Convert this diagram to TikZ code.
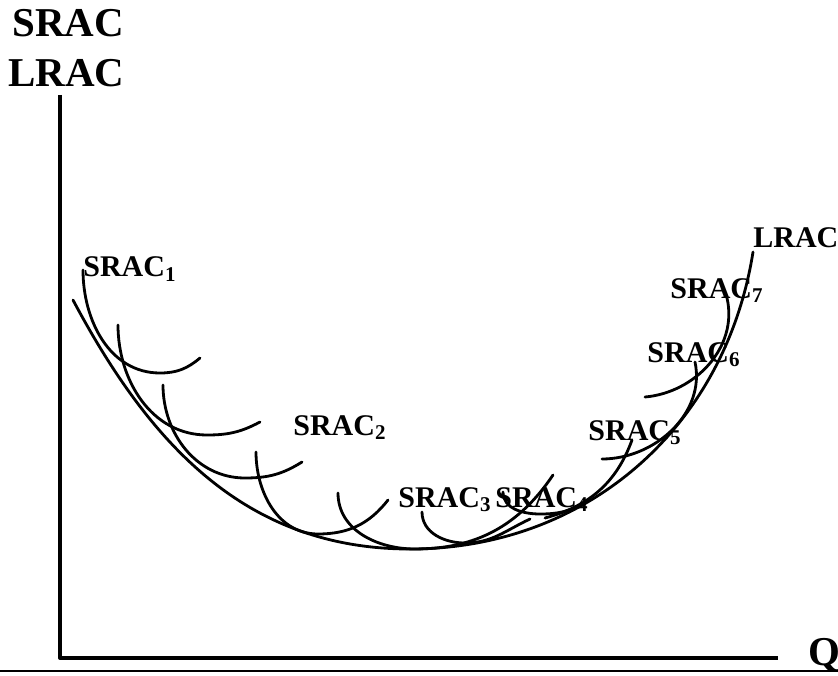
\documentclass[tikz,border=0pt]{standalone}
\usepackage{fontspec}
\setmainfont{Liberation Serif}

\begin{document}
\begin{tikzpicture}[x=0.5pt,y=0.5pt,
  cost/.style={line width=1.4pt,line cap=round},
  lbl/.style={font=\bfseries\fontsize{15}{17}\selectfont,inner sep=0pt,anchor=base west},
  big/.style={font=\bfseries\fontsize{20.5}{23}\selectfont,inner sep=0pt,anchor=base west}]
\useasboundingbox (0,0) rectangle (838,675);
% axes
\draw[line width=2pt,line join=round] (60,580) -- (60,17) -- (778,17);
\draw[line width=0.6pt] (0,4) -- (838,4);
\node[big] (s) at (12,638) {SRAC};
\node[big] (l) at (8,588) {LRAC};
\node[big] (q) at (808,10) {Q};
% long run
\draw[cost] (73,375) to[out=-62,in=180] (410,126) to[out=0,in=-99] (753,423);
% short run, falling part
\draw[cost] (83,405) to[out=-90,in=180] (160,302) to[out=0,in=220] (200,317);
\draw[cost] (118,350) to[out=-90,in=180] (207,240) to[out=0,in=208] (260,253);
\draw[cost] (163,290) to[out=-90,in=180] (245,197) to[out=0,in=212] (302,213);
\draw[cost] (256,223) to[out=-90,in=180] (318,141) to[out=0,in=232] (388,175);
\draw[cost] (338,182) to[out=-90,in=180] (415,126) to[out=0,in=236] (553,200);
\draw[cost] (422,163) to[out=-90,in=180] (465,132) to[out=0,in=205] (530,156);
\draw[cost] (503,183) to[out=-90,in=180] (540,161) to[out=0,in=208] (585,172);
% short run, rising part
\draw[cost] (545,157) to[out=15,in=-110] (632,235);
\draw[cost] (602,216) to[out=0,in=-78] (695,313);
\draw[cost] (645,278) to[out=5,in=-77] (727,377);
% labels
\node[lbl] (a1) at (83,398) {SRAC\textsubscript{1}};
\node[lbl] (a2) at (293,240) {SRAC\textsubscript{2}};
\node[lbl] (a3) at (398,168) {SRAC\textsubscript{3}};
\node[lbl] (a4) at (495,168) {SRAC\textsubscript{4}};
\node[lbl] (a5) at (588,235) {SRAC\textsubscript{5}};
\node[lbl] (a6) at (647,313) {SRAC\textsubscript{6}};
\node[lbl] (a7) at (670,377) {SRAC\textsubscript{7}};
\node[lbl] (lr) at (753,427) {LRAC};
\end{tikzpicture}
\end{document}
